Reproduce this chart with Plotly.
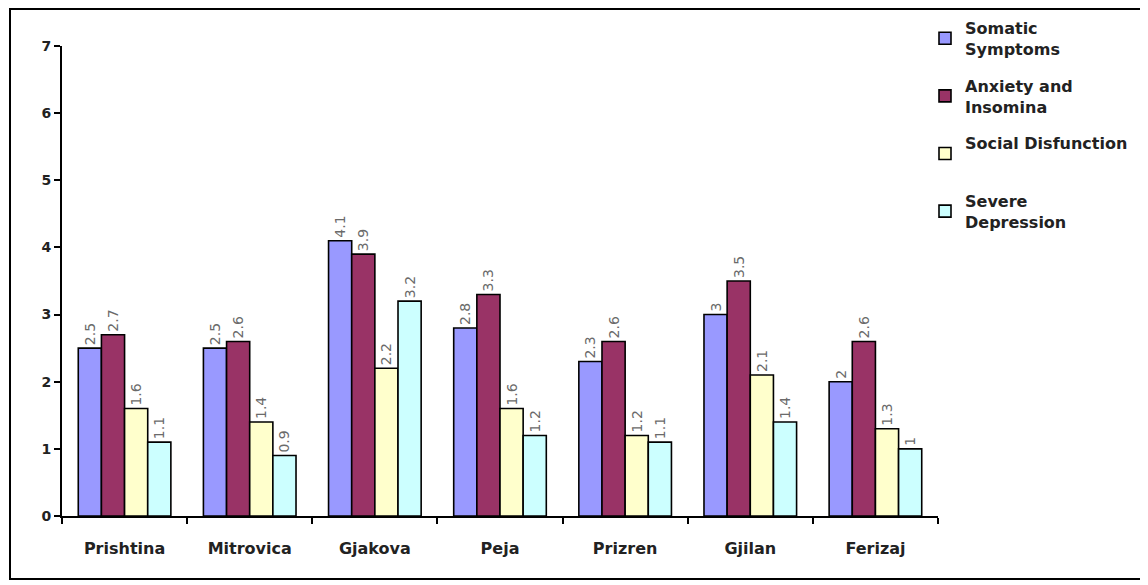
import plotly.graph_objects as go

cities = ["Prishtina", "Mitrovica", "Gjakova", "Peja", "Prizren", "Gjilan", "Ferizaj"]
series_names = ["Somatic<br>Symptoms", "Anxiety and<br>Insomina", "Social Disfunction<br> ", "Severe<br>Depression"]
somatic = [2.5, 2.5, 4.1, 2.8, 2.3, 3, 2]
anxiety = [2.7, 2.6, 3.9, 3.3, 2.6, 3.5, 2.6]
social = [1.6, 1.4, 2.2, 1.6, 1.2, 2.1, 1.3]
severe = [1.1, 0.9, 3.2, 1.2, 1.1, 1.4, 1]
colors = ["#9999FF", "#993366", "#FFFFCC", "#CCFFFF"]
y_ticks = [0, 1, 2, 3, 4, 5, 6, 7]

# page body has an 8px margin, so the figure is drawn at (8, 8)
OFF = 8
W, H = 1148 - OFF, 585 - OFF
ml, mt = 62 - OFF, 46 - OFF
pw, ph = 876, 470
mr, mb = W - ml - pw, H - mt - ph

FONT = "DejaVu Sans, Verdana, sans-serif"

fig = go.Figure()
for i, (name, vals) in enumerate(zip(series_names, [somatic, anxiety, social, severe])):
    fig.add_trace(go.Bar(
        x=cities, y=vals, name=name, legendgroup=str(i),
        marker=dict(color=colors[i], line=dict(color="black", width=1.6)),
        text=[f"{v:g}" for v in vals], textposition="outside", textangle=-90,
        constraintext="none", cliponaxis=False,
        textfont=dict(family=FONT, size=14, color="#6a6a6a"),
    ))

fig.update_layout(
    width=W, height=H, barmode="group", bargap=0.26, bargroupgap=0,
    margin=dict(l=ml, r=mr, t=mt, b=mb, autoexpand=False),
    plot_bgcolor="white", paper_bgcolor="white",
    font=dict(family=FONT, color="#222222"),
    legend=dict(x=(925 - OFF - ml) / pw, y=(mt + ph - (11 - OFF)) / ph,
                xanchor="left", yanchor="top",
                font=dict(family=FONT, size=16, weight="bold", color="#222222"),
                tracegroupgap=13, itemwidth=30, bgcolor="rgba(0,0,0,0)"),
    xaxis=dict(showline=True, linecolor="black", linewidth=2, ticks="outside",
               tickson="boundaries", ticklen=6, tickwidth=2, tickcolor="black",
               ticklabelstandoff=17,
               tickfont=dict(family=FONT, size=16, weight="bold", color="#222222"),
               showgrid=False),
    yaxis=dict(range=[0, 7], tickvals=y_ticks, showline=True, linecolor="black", linewidth=2,
               ticks="outside", ticklen=6, tickwidth=2, tickcolor="black", showgrid=False,
               zeroline=False,
               tickfont=dict(family=FONT, size=14, weight="bold", color="#222222")),
)

fig.add_shape(type="rect", xref="paper", yref="paper",
              x0=(10 - OFF - ml) / pw, x1=(1170 - OFF - ml) / pw,
              y0=(mt + ph - (579 - OFF)) / ph, y1=(mt + ph - 1) / ph,
              line=dict(color="black", width=2), layer="below")

fig.write_html("out.html")
